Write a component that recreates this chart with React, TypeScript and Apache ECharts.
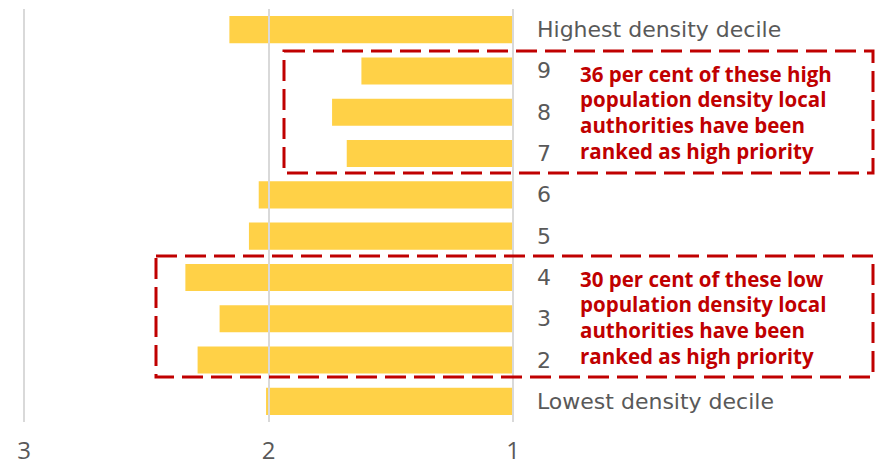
import React, { useEffect, useRef } from "react";
import * as echarts from "echarts";

const categories = [
  "Highest density decile",
  "9",
  "8",
  "7",
  "6",
  "5",
  "4",
  "3",
  "2",
  "Lowest density decile",
];
const values = [2.16, 1.62, 1.74, 1.68, 2.04, 2.08, 2.34, 2.2, 2.29, 2.01];
const baseValue = 1;
const axisMin = 1;
const axisMax = 3;

const noteHigh = [
  "36 per cent of these high",
  "population density local",
  "authorities have been",
  "ranked as high priority",
];
const noteLow = [
  "30 per cent of these low",
  "population density local",
  "authorities have been",
  "ranked as high priority",
];

const BAR = "#FFD147";
const RED = "#C00000";
const GREY = "#595959";
const FONT = "'Open Sans', 'DejaVu Sans', sans-serif";
const CAT_FONT = "'DejaVu Sans', 'Open Sans', sans-serif";

export default function App() {
  const ref = useRef<HTMLDivElement>(null);
  useEffect(() => {
    document.body.style.margin = "0";
    const chart = echarts.init(ref.current!, null, { renderer: "svg" });
    const data = values.map((v, i) => [v, i]);
    chart.setOption({
      animation: false,
      backgroundColor: "#ffffff",
      grid: { left: 24, right: 368, top: 9, bottom: 43, containLabel: false },
      xAxis: {
        type: "value",
        inverse: true,
        min: axisMin,
        max: axisMax,
        interval: 1,
        z: 5,
        axisLine: { show: false },
        axisTick: { show: false },
        splitLine: { show: true, lineStyle: { color: "#D9D9D9", width: 2 } },
        axisLabel: {
          color: GREY,
          fontSize: 24,
          lineHeight: 24,
          fontFamily: FONT,
          margin: 15,
        },
      },
      yAxis: {
        type: "category",
        data: categories,
        inverse: true,
        position: "right",
        axisLine: { show: false },
        axisTick: { show: false },
        splitLine: { show: false },
        axisLabel: {
          color: GREY,
          fontSize: 22,
          fontFamily: CAT_FONT,
          margin: 24,
        },
      },
      series: [
        {
          type: "custom",
          z: 2,
          data,
          encode: { x: 0, y: 1 },
          renderItem: (params: any, api: any) => {
            const v = api.value(0);
            const idx = api.value(1);
            const start = api.coord([baseValue, idx]);
            const end = api.coord([v, idx]);
            const h = api.size([0, 1])[1] * 0.655;
            return {
              type: "rect",
              shape: {
                x: Math.min(start[0], end[0]),
                y: start[1] - h / 2,
                width: Math.abs(end[0] - start[0]),
                height: h,
              },
              style: { fill: BAR },
            };
          },
        },
      ],
      graphic: [
        {
          type: "rect",
          z: 10,
          shape: { x: 284, y: 51, width: 589, height: 122 },
          style: { fill: "none", stroke: RED, lineWidth: 3, lineDash: [21, 8] },
        },
        {
          type: "rect",
          z: 10,
          shape: { x: 156, y: 256, width: 717, height: 121 },
          style: { fill: "none", stroke: RED, lineWidth: 3, lineDash: [21, 8] },
        },
        {
          type: "text",
          z: 10,
          x: 580,
          y: 61,
          style: {
            text: noteHigh.join("\n"),
            fill: RED,
            font: `bold 20.5px ${FONT}`,
            lineHeight: 25.6,
            verticalAlign: "top",
          },
        },
        {
          type: "text",
          z: 10,
          x: 580,
          y: 266,
          style: {
            text: noteLow.join("\n"),
            fill: RED,
            font: `bold 20.5px ${FONT}`,
            lineHeight: 25.6,
            verticalAlign: "top",
          },
        },
      ],
    });
    return () => chart.dispose();
  }, []);
  return <div ref={ref} style={{ width: 881, height: 465 }} />;
}
